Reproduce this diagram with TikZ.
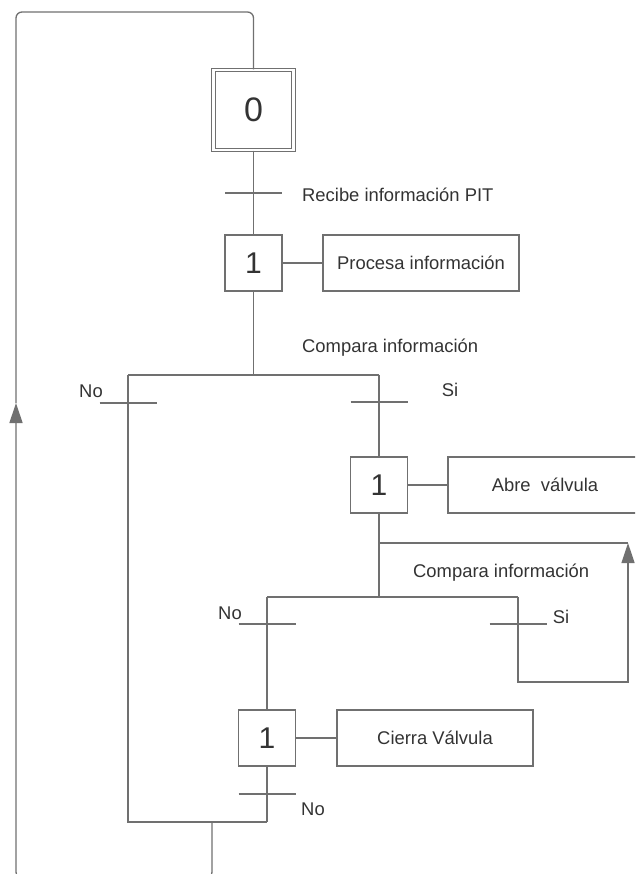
\documentclass[tikz,border=0pt]{standalone}
\usepackage{fontspec}
\setmainfont{Liberation Sans}
\usetikzlibrary{arrows.meta}
\definecolor{linec}{RGB}{112,112,112}
\definecolor{txtc}{RGB}{51,51,51}
\begin{document}
\begin{tikzpicture}[x=1pt,y=-1pt,
 ln/.style={draw=linec, line width=1.3pt},
 stepbox/.style={ln, minimum width=57pt, minimum height=56pt, inner sep=0pt, font=\fontsize{30}{30}\selectfont, text=txtc, fill=white},
 initbox/.style={draw=linec, line width=1.2pt, double, double distance=2.4pt, minimum size=80pt, inner sep=0pt, font=\fontsize{34}{34}\selectfont, text=txtc},
 actbox/.style={ln, minimum height=56pt, inner sep=0pt, font=\fontsize{18.4}{22}\selectfont, text=txtc},
 lbl/.style={text=txtc, font=\fontsize{18.4}{22}\selectfont, inner sep=0pt},
 tip/.style={-{Triangle[length=20pt,width=13pt]}}
]
\useasboundingbox (0,0) rectangle (635,874);
\clip (0,0) rectangle (635,874);

% steps and actions
\node[initbox] (s0) at (253.5,110) {0};
\node[stepbox] (s1) at (253.5,263) {1};
\node[actbox, minimum width=196pt] (a1) at (421,263) {Procesa información};
\node[stepbox] (s2) at (379,485) {1};
\node[actbox, minimum width=194pt] (a2) at (545,485) {Abre~ válvula};
\node[stepbox] (s3) at (267,738) {1};
\node[actbox, minimum width=196pt] (a3) at (435,738) {Cierra Válvula};

% coordinates
\coordinate (t1) at (253.5,193);
\coordinate (j1) at (253.5,375);
\coordinate (jl) at (128,375);
\coordinate (jr) at (379,375);
\coordinate (t2l) at (128,403);
\coordinate (t2r) at (379,402);
\coordinate (k1) at (379,543);
\coordinate (k2) at (628,543);
\coordinate (kb) at (628,682);
\coordinate (kc) at (518,682);
\coordinate (j2) at (379,597);
\coordinate (j2l) at (267,597);
\coordinate (j2r) at (518,597);
\coordinate (t3l) at (267,624);
\coordinate (t3r) at (518,624);
\coordinate (t4) at (267,794);
\coordinate (bl) at (128,822);
\coordinate (br) at (267,822);
\coordinate (bj) at (212,822);
\coordinate (lb) at (212,880);
\coordinate (lc) at (16,880);
\coordinate (la) at (16,403);
\coordinate (lt) at (16,12);
\coordinate (rt) at (253.5,12);

% connectors
\draw[ln] (s0.south) -- (s1.north);
\draw[ln] (s1.east) -- (a1.west);
\draw[ln] (s2.east) -- (a2.west);
\draw[ln] (s3.east) -- (a3.west);
\draw[ln] (s1.south) -- (j1);
\draw[ln] (jl) -- (jr);
\draw[ln] (jr) -- (s2.north);
\draw[ln] (s2.south) -- (j2);
\draw[ln] (k1) -- (k2);
\draw[ln] (j2l) -- (j2r);
\draw[ln] (j2l) -- (s3.north);
\draw[ln, tip] (j2r) -- (kc) -- (kb) -- (k2);
\draw[ln] (s3.south) -- (br);
\draw[ln] (jl) -- (bl) -- (br);
\draw[ln, tip, rounded corners=8pt] (bj) -- (lb) -- (lc) -- (la);
\draw[ln, rounded corners=6pt] (la) -- (lt) -- (rt) -- (s0.north);

% transition bars
\foreach \c in {t1,t2l,t2r,t3l,t3r,t4}
  \draw[ln] (\c) ++(-28.5,0) -- ++(57,0);

% labels
\node[lbl, anchor=west] (l1) at (302,195) {Recibe información PIT};
\node[lbl, anchor=west] (l2) at (302,348) {Compara información};
\node[lbl] (l3) at (91,391) {No};
\node[lbl] (l4) at (450,390) {Si};
\node[lbl, anchor=west] (l5) at (413,573) {Compara información};
\node[lbl] (l6) at (230,613) {No};
\node[lbl] (l7) at (561,617) {Si};
\node[lbl] (l8) at (313,809) {No};
\end{tikzpicture}
\end{document}
